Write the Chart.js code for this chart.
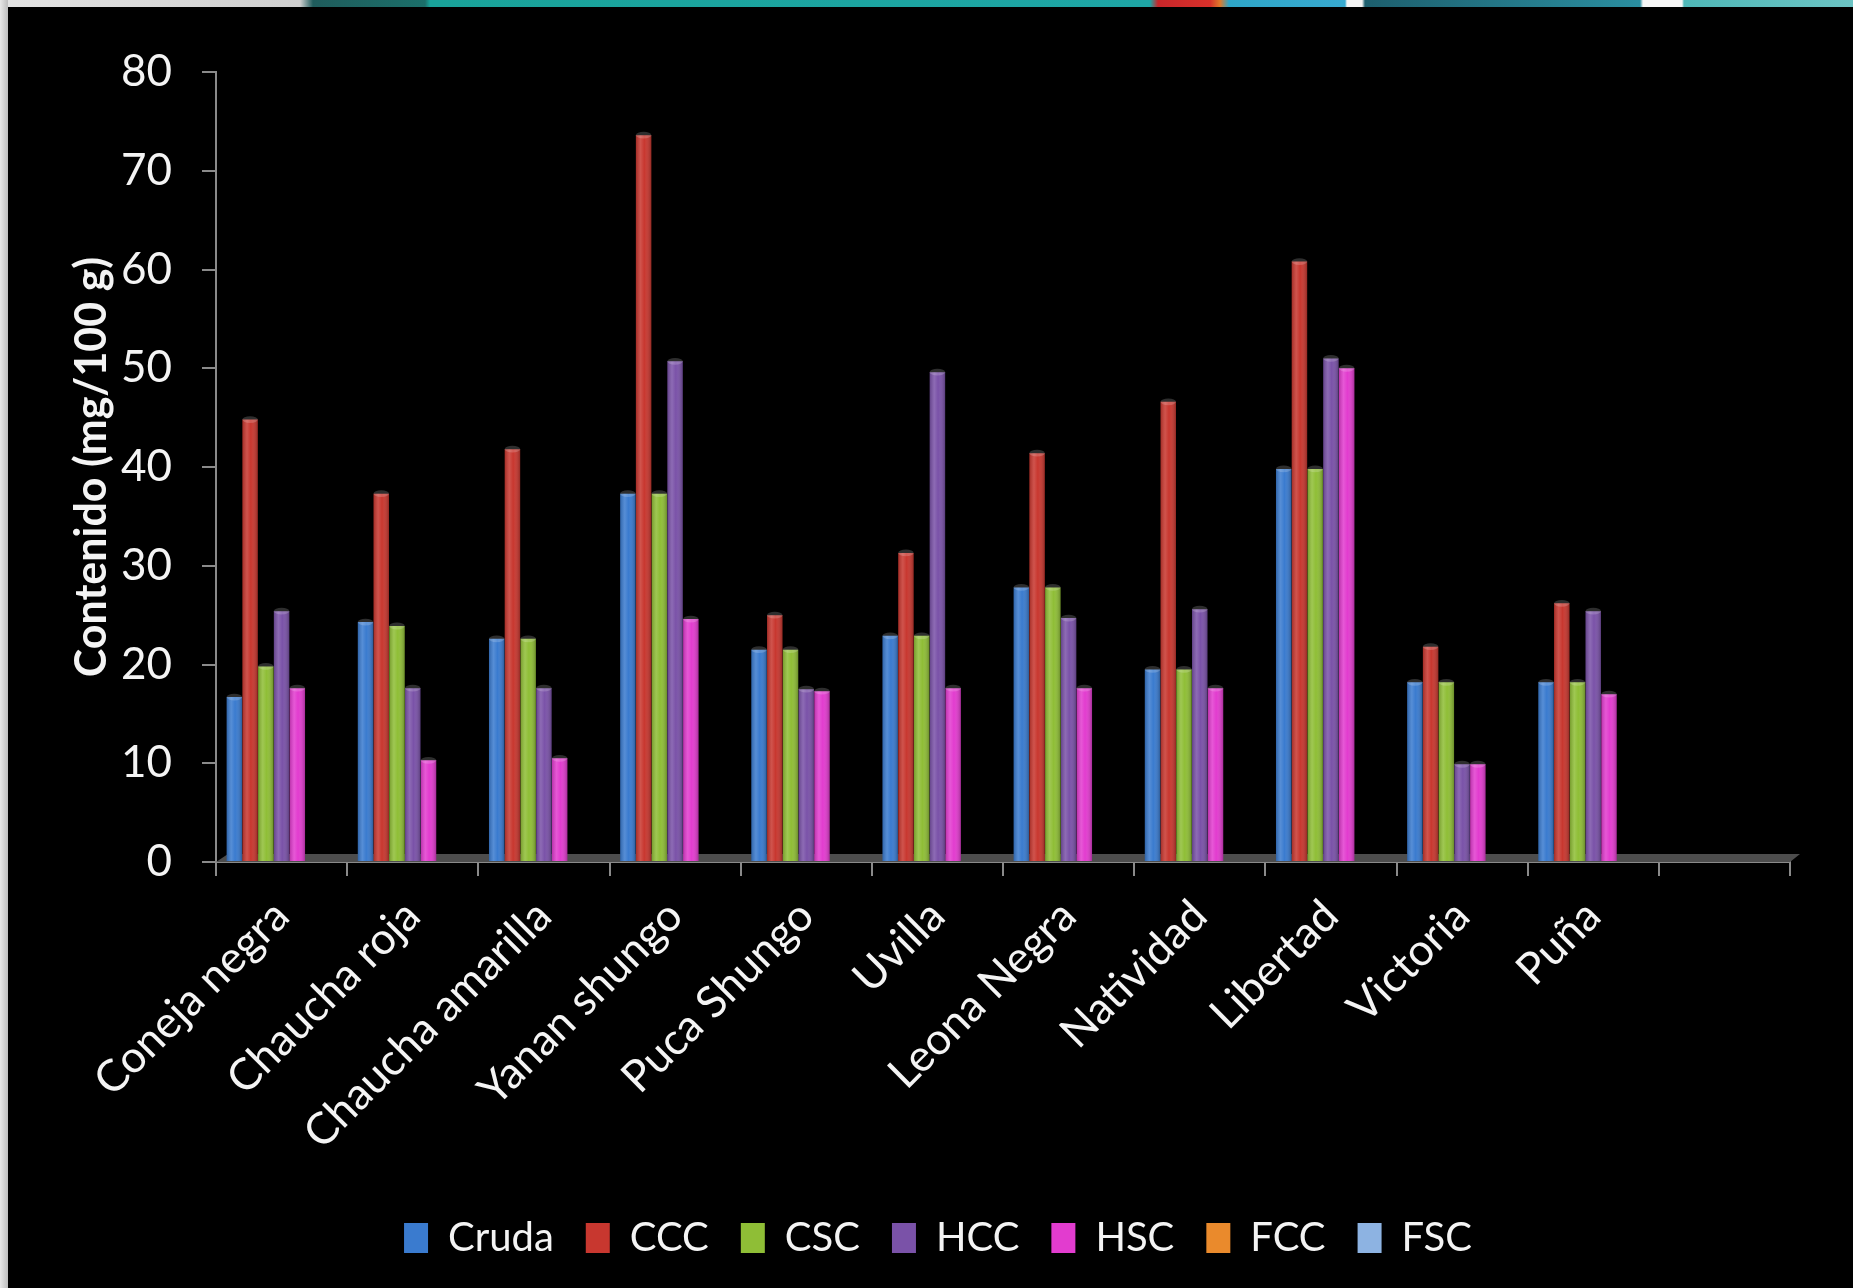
<!DOCTYPE html>
<html>
<head>
<meta charset="utf-8">
<script src="https://cdn.jsdelivr.net/npm/chart.js@4.4.1/dist/chart.umd.min.js"></script>
<style>
  html, body { margin: 0; padding: 0; background: #000; overflow: hidden; }
  #wrap { position: relative; width: 1853px; height: 1288px; overflow: hidden; background: #000; }
  #chart-contenido { position: absolute; left: 0; top: 0; }
  #franja { position: absolute; left: 0; top: 0; width: 1853px; height: 7px;
    background: linear-gradient(to right, #e4e4e4 0, #d0d0d0 300px, #1f5c5c 313px, #1b6f6a 425px, #19a39a 430px, #1ea6a6 1150px,
      #c8262a 1158px, #d8302a 1210px, #e07a2a 1220px, #2ea6c8 1229px, #38aad0 1345px, #f4f4f4 1347px, #f4f4f4 1362px,
      #1d5f6e 1365px, #2a8ea0 1640px, #f6f6f6 1643px, #f6f6f6 1682px, #4fb8b8 1684px, #6cc4c4 1853px); }
  #borde { position: absolute; left: 0; top: 0; width: 8px; height: 1288px;
    background: linear-gradient(to right, #e8e8e8, #bdbdbd); }
</style>
</head>
<body>
<div id="wrap">
  <canvas id="chart-contenido" width="1853" height="1268" style="width:1853px;height:1268px"></canvas>
  <div id="franja"></div>
  <div id="borde"></div>
</div>
<script>
var categorias = ['Coneja negra', 'Chaucha roja', 'Chaucha amarilla', 'Yanan shungo', 'Puca Shungo',
  'Uvilla', 'Leona Negra', 'Natividad', 'Libertad', 'Victoria', 'Puña', ''];

// mg/100 g por tratamiento
var cruda = [16.7, 24.3, 22.6, 37.3, 21.5, 22.9, 27.8, 19.5, 39.8, 18.2, 18.2];
var ccc   = [44.8, 37.3, 41.8, 73.6, 25.0, 31.3, 41.4, 46.6, 60.8, 21.8, 26.2];
var csc   = [19.8, 23.9, 22.6, 37.3, 21.5, 22.9, 27.8, 19.5, 39.8, 18.2, 18.2];
var hcc   = [25.4, 17.6, 17.6, 50.7, 17.5, 49.6, 24.7, 25.6, 51.0, 9.9, 25.4];
var hsc   = [17.6, 10.3, 10.5, 24.6, 17.3, 17.6, 17.6, 17.6, 50.0, 9.9, 17.0];
var fcc   = [];
var fsc   = [];

var yTicks = [0, 10, 20, 30, 40, 50, 60, 70, 80];

var fuente = 'Lato, "Open Sans", sans-serif';
var gris = '#8a8a8a';

// suelo gris bajo las barras
var suelo = {
  id: 'suelo',
  beforeDatasetsDraw: function(chart) {
    var a = chart.chartArea;
    var c = chart.ctx;
    c.save();
    c.fillStyle = '#4d4d4d';
    c.beginPath();
    c.moveTo(a.left, a.bottom);
    c.lineTo(a.left + 12, a.bottom - 8);
    c.lineTo(a.right + 10, a.bottom - 8);
    c.lineTo(a.right, a.bottom);
    c.closePath();
    c.fill();
    c.restore();
  }
};

// sombreado cilindrico sobre cada barra
var cilindro = {
  id: 'cilindro',
  afterDatasetsDraw: function(chart) {
    var c = chart.ctx;
    c.save();
    chart.data.datasets.forEach(function(ds, i) {
      var meta = chart.getDatasetMeta(i);
      meta.data.forEach(function(bar) {
        var p = bar.getProps(['x', 'y', 'base', 'width'], true);
        if (isNaN(p.y) || p.y === p.base) return;
        var l = p.x - p.width / 2;
        var g = c.createLinearGradient(l, 0, l + p.width, 0);
        g.addColorStop(0, 'rgba(0,0,0,0.18)');
        g.addColorStop(0.3, 'rgba(255,255,255,0.14)');
        g.addColorStop(0.55, 'rgba(255,255,255,0)');
        g.addColorStop(1, 'rgba(0,0,0,0.26)');
        c.fillStyle = g;
        c.fillRect(l, p.y, p.width, p.base - p.y);
        c.fillStyle = 'rgba(255,255,255,0.18)';
        c.beginPath();
        c.ellipse(p.x, p.y, p.width / 2, p.width * 0.22, 0, 0, Math.PI * 2);
        c.fill();
      });
    });
    c.restore();
  }
};

// leyenda centrada algo a la derecha del centro del lienzo
var leyendaDesplazada = {
  id: 'leyendaDesplazada',
  afterLayout: function(chart) {
    if (chart.legend) chart.legend.left = 86;
  }
};

function serie(label, data, color) {
  return { label: label, data: data, backgroundColor: color, borderWidth: 0 };
}

var ctx = document.getElementById('chart-contenido');
new Chart(ctx, {
  type: 'bar',
  data: {
    labels: categorias,
    datasets: [
      serie('Cruda', cruda, '#3a7bcf'),
      serie('CCC', ccc, '#c8372f'),
      serie('CSC', csc, '#8fbe36'),
      serie('HCC', hcc, '#7a52a8'),
      serie('HSC', hsc, '#e23ccf'),
      serie('FCC', fcc, '#ea8a2c'),
      serie('FSC', fsc, '#8db3e2')
    ]
  },
  plugins: [suelo, cilindro, leyendaDesplazada],
  options: {
    responsive: false,
    animation: false,
    devicePixelRatio: 1,
    layout: { padding: { top: 72, right: 63, left: 0, bottom: 0 } },
    datasets: { bar: { categoryPercentage: 0.84, barPercentage: 0.98 } },
    plugins: {
      tooltip: { enabled: false },
      legend: {
        position: 'bottom',
        labels: {
          color: '#f4f4f4',
          font: { family: fuente, size: 40 },
          boxWidth: 24,
          boxHeight: 30,
          padding: 32
        }
      }
    },
    scales: {
      x: {
        afterFit: function(scale) { scale.height = 324; },
        grid: { display: true, drawOnChartArea: false, drawTicks: true, tickLength: 14, color: gris, lineWidth: 2 },
        border: { display: true, color: gris, width: 2 },
        ticks: {
          color: '#f4f4f4',
          font: { family: fuente, size: 44 },
          minRotation: 45,
          maxRotation: 45,
          padding: 14,
          autoSkip: false
        }
      },
      y: {
        min: 0,
        max: 80,
        afterFit: function(scale) { scale.width = 216; },
        afterBuildTicks: function(scale) {
          scale.ticks = yTicks.map(function(v) { return { value: v }; });
        },
        grid: { display: true, drawOnChartArea: false, drawTicks: true, tickLength: 14, color: gris, lineWidth: 2 },
        border: { display: true, color: gris, width: 2 },
        ticks: {
          color: '#f4f4f4',
          font: { family: fuente, size: 44 },
          padding: 30
        },
        title: {
          display: true,
          text: 'Contenido (mg/100 g)',
          color: '#f4f4f4',
          font: { family: fuente, size: 43, weight: 'bold' },
          padding: { top: 66, bottom: 0 }
        }
      }
    }
  }
});
</script>
</body>
</html>
